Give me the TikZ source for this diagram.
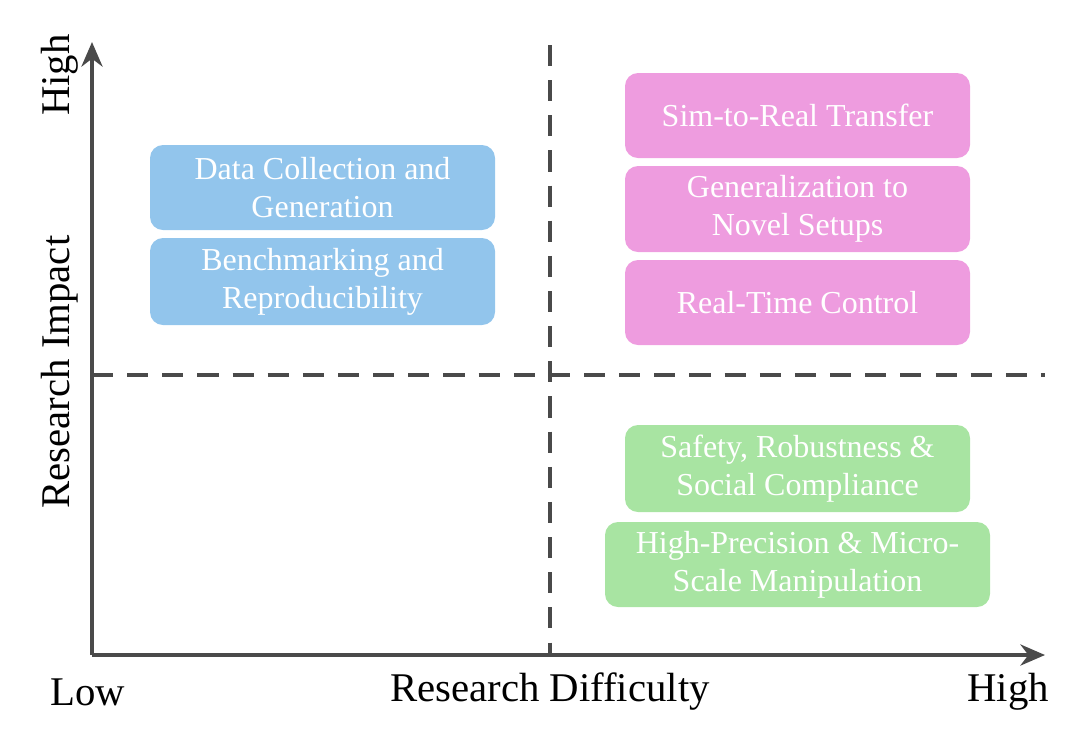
\documentclass[tikz,border=0pt]{standalone}
\usepackage{fontspec}
\setmainfont{Liberation Serif}
\usetikzlibrary{arrows.meta}
\definecolor{axisgray}{HTML}{4A4A4A}
\definecolor{boxblue}{HTML}{92C5EC}
\definecolor{boxpink}{HTML}{EE9CDF}
\definecolor{boxgreen}{HTML}{A8E4A2}
\tikzset{
  topic/.style={rounded corners=0.13cm, text=white, align=center, inner sep=0pt,
    font=\fontsize{9.1pt}{10.8pt}\selectfont},
  axislabel/.style={text=black, font=\fontsize{11.6pt}{13pt}\selectfont},
  quadline/.style={axisgray, line width=0.9pt, dash pattern=on 6pt off 4pt},
}
\begin{document}
\begin{tikzpicture}
\useasboundingbox (0,0) rectangle (10.8,-7.41);

% quadrant lines
\coordinate (vtop) at (5.5,-0.45);
\coordinate (vbot) at (5.5,-6.55);
\coordinate (hleft) at (0.92,-3.75);
\coordinate (hright) at (10.45,-3.75);
\draw[quadline] (vtop) -- (vbot);
\draw[quadline] (hleft) -- (hright);

% axes
\coordinate (origin) at (0.92,-6.55);
\coordinate (ytip) at (0.92,-0.42);
\coordinate (xtip) at (10.45,-6.55);
\draw[axisgray, line width=1.1pt, -{Stealth[length=7pt,width=6pt]}] (origin) -- (ytip);
\draw[axisgray, line width=1.1pt, -{Stealth[length=7pt,width=6pt]}] (origin) -- (xtip);

% axis labels
\node[axislabel] (xlow) at (0.88,-6.92) {Low};
\node[axislabel] (xname) at (5.5,-6.92) {Research Difficulty};
\node[axislabel] (xhigh) at (10.08,-6.92) {High};
\node[axislabel, rotate=90] (yhigh) at (0.6,-0.75) {High};
\node[axislabel, rotate=90] (yname) at (0.6,-3.72) {Research Impact};

% blue topics
\node[topic, fill=boxblue, minimum width=3.45cm, minimum height=0.85cm] (datagen) at (3.225,-1.875) {Data Collection and\\Generation};
\node[topic, fill=boxblue, minimum width=3.45cm, minimum height=0.87cm] (bench) at (3.225,-2.815) {Benchmarking and\\Reproducibility};

% pink topics
\node[topic, fill=boxpink, minimum width=3.45cm, minimum height=0.85cm] (simreal) at (7.975,-1.155) {Sim-to-Real Transfer};
\node[topic, fill=boxpink, minimum width=3.45cm, minimum height=0.86cm] (general) at (7.975,-2.09) {Generalization to\\Novel Setups};
\node[topic, fill=boxpink, minimum width=3.45cm, minimum height=0.85cm] (realtime) at (7.975,-3.025) {Real-Time Control};

% green topics
\node[topic, fill=boxgreen, minimum width=3.45cm, minimum height=0.87cm] (safety) at (7.975,-4.685) {Safety, Robustness \&\\Social Compliance};
\node[topic, fill=boxgreen, minimum width=3.85cm, minimum height=0.85cm] (precision) at (7.975,-5.645) {High-Precision \& Micro-\\Scale Manipulation};
\end{tikzpicture}
\end{document}
